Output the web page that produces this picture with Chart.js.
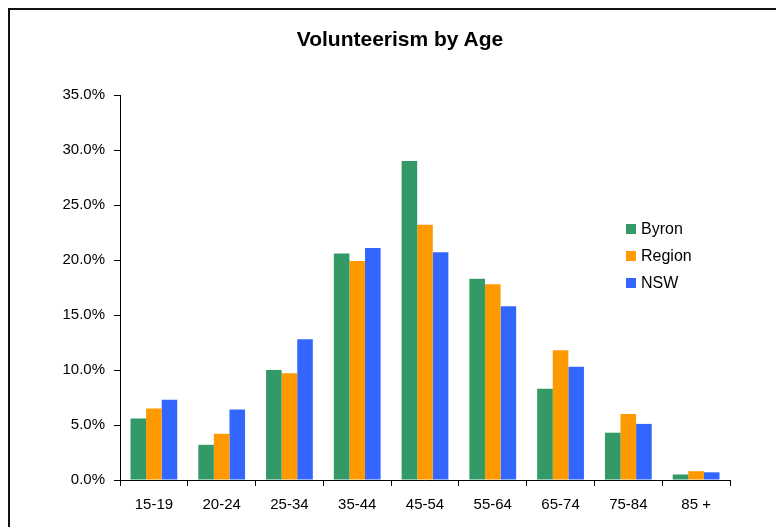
<!DOCTYPE html>
<html>
<head>
<meta charset="utf-8">
<title>Volunteerism by Age</title>
<script src="https://cdn.jsdelivr.net/npm/chart.js@4.4.1/dist/chart.umd.min.js"></script>
<style>
  html, body { margin: 0; padding: 0; background: #fff; overflow: hidden; }
  #wrap { position: relative; width: 776px; height: 527px; overflow: hidden; font-family: 'Liberation Sans', Arial, sans-serif; }
  #frame { position: absolute; left: 8px; top: 8px; width: 820px; height: 600px; border: 2px solid #111; }
  #chart { position: absolute; left: 0; top: 0; }
  #title { position: absolute; left: 0; top: 28px; width: 800px; text-align: center; font-size: 21px; line-height: 21px; font-weight: bold; color: #000; }
  #legend { position: absolute; left: 626px; top: 216px; font-size: 16px; color: #000; }
  .lg-item { height: 26.7px; display: flex; align-items: center; }
  .lg-box { width: 10px; height: 10px; margin-right: 5px; }
</style>
</head>
<body>
<div id="wrap">
  <div id="frame"></div>
  <canvas id="chart" width="776" height="527"></canvas>
  <div id="title">Volunteerism by Age</div>
  <div id="legend"></div>
</div>
<script>
// Age groups and volunteer share (%)
const ageGroups = ['15-19', '20-24', '25-34', '35-44', '45-54', '55-64', '65-74', '75-84', '85 +'];
const byron  = [5.6, 3.2, 10.0, 20.6, 29.0, 18.3, 8.3, 4.3, 0.5];
const region = [6.5, 4.2, 9.7, 19.9, 23.2, 17.8, 11.8, 6.0, 0.8];
const nsw    = [7.3, 6.4, 12.8, 21.1, 20.7, 15.8, 10.3, 5.1, 0.7];

const seriesNames = ['Byron', 'Region', 'NSW'];
const seriesColors = ['#339966', '#FF9900', '#3366FF'];
const seriesData = [byron, region, nsw];

const yMin = 0;
const yMax = 35;
const yStep = 5;

Chart.defaults.font.family = "'Liberation Sans', Arial, sans-serif";
Chart.defaults.color = '#000';

const datasets = seriesNames.map((name, i) => ({
  label: name,
  data: seriesData[i],
  backgroundColor: seriesColors[i],
  borderWidth: 0,
  categoryPercentage: 0.69,
  barPercentage: 1.0,
}));

new Chart(document.getElementById('chart'), {
  type: 'bar',
  data: { labels: ageGroups, datasets },
  options: {
    responsive: false,
    animation: false,
    layout: { padding: { left: 60, right: 46, top: 95, bottom: 15 } },
    plugins: {
      legend: { display: false },
      tooltip: { enabled: false },
      title: { display: false },
    },
    scales: {
      x: {
        grid: { drawOnChartArea: false, drawTicks: true, tickLength: 6, color: '#000', offset: true },
        border: { color: '#000', width: 1 },
        ticks: { font: { size: 15 }, color: '#000', padding: 10, maxRotation: 0 },
        afterFit: (scale) => { scale.height = 32; },
      },
      y: {
        min: yMin,
        max: yMax,
        grid: { drawOnChartArea: false, drawTicks: true, tickLength: 6, color: '#000' },
        border: { color: '#000', width: 1 },
        ticks: {
          stepSize: yStep,
          font: { size: 15 },
          color: '#000',
          padding: 9,
          callback: (v) => v.toFixed(1) + '%',
        },
        afterFit: (scale) => { scale.width = 60; },
      },
    },
  },
});

// legend, built from the series arrays
const legend = document.getElementById('legend');
legend.innerHTML = seriesNames
  .map((name, i) => `
    <div class="lg-item"><span class="lg-box" style="background:${seriesColors[i]}"></span>${name}</div>`)
  .join('');
</script>
</body>
</html>
